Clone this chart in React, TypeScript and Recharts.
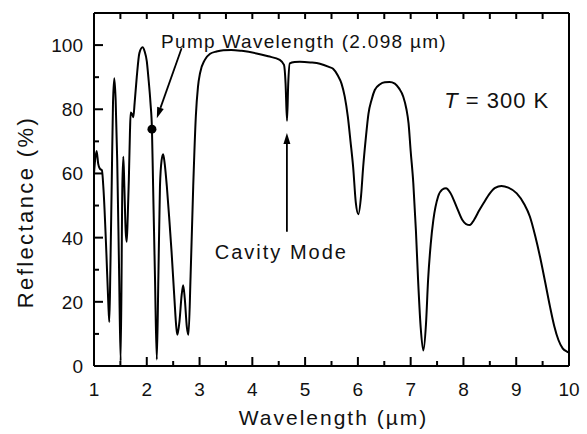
import { LineChart, Line, XAxis, YAxis, ReferenceDot, ReferenceLine } from 'recharts'

const FONT = '"Liberation Sans", Arial, Helvetica, sans-serif'

// wavelength in µm
const wavelength = [
  1.0, 1.02, 1.05, 1.08, 1.11, 1.15, 1.18, 1.235, 1.27, 1.29, 1.31, 1.335, 1.36, 1.385, 1.41, 1.44,
  1.475, 1.505, 1.537, 1.556, 1.575, 1.6, 1.62, 1.64, 1.66, 1.68, 1.695, 1.72, 1.745, 1.77, 1.81,
  1.86, 1.92, 1.96, 2.0, 2.03, 2.07, 2.098, 2.12, 2.155, 2.19, 2.22, 2.25, 2.28, 2.31, 2.34, 2.38,
  2.43, 2.47, 2.52, 2.56, 2.58, 2.62, 2.66, 2.69, 2.72, 2.76, 2.79, 2.83, 2.88, 2.93, 2.97, 3.01,
  3.1, 3.2, 3.32, 3.45, 3.6, 3.8, 4.08, 4.3, 4.52, 4.6, 4.63, 4.657, 4.68, 4.71, 4.8, 4.9, 5.1,
  5.28, 5.45, 5.53, 5.62, 5.69, 5.75, 5.81, 5.86, 5.91, 5.96, 6.01, 6.06, 6.1, 6.15, 6.2, 6.26,
  6.32, 6.42, 6.51, 6.6, 6.7, 6.78, 6.86, 6.92, 6.96, 7.0, 7.05, 7.1, 7.14, 7.19, 7.24, 7.29, 7.33,
  7.38, 7.43, 7.52, 7.6, 7.67, 7.75, 7.87, 7.98, 8.05, 8.12, 8.2, 8.3, 8.38, 8.5, 8.6, 8.72, 8.85,
  9.01, 9.15, 9.26, 9.36, 9.45, 9.55, 9.64, 9.72, 9.8, 9.88, 9.96, 10.0,
]

// reflectance in %
const reflectance = [
  60, 64, 67, 63, 61.5, 61, 55, 35, 20, 13.7, 30, 56, 82, 89.7, 83, 64,
  30, 1.5, 56, 65.2, 56, 42, 38.7, 47, 58, 72, 79, 78.5, 77.5, 82, 90,
  97.5, 99.3, 98, 95, 90, 82, 73.8, 56, 28, 2, 28, 56, 64, 66, 63, 56,
  45, 35.5, 22, 12, 9.7, 14, 22, 25.2, 21, 12, 9.7, 28, 56, 78, 87, 91.3,
  95.4, 97.3, 98, 98.4, 98.5, 98.2, 97.4, 96.5, 95.4, 93.8, 88, 76.4, 88, 94.3, 94.7, 94.8, 94.6,
  94.2, 93.2, 92.6, 90.5, 88, 84, 77.6, 70, 62, 51, 47.3, 53, 62, 71, 78.6, 83,
  86, 87.8, 88.4, 88.5, 88, 86.5, 83.9, 80, 75.6, 67, 57, 42, 27, 12, 4.8, 13, 26.8,
  38, 45.5, 52.8, 55, 55.4, 54, 49.6, 45.5, 44.2, 43.9, 45.5, 48.5, 50.7, 53.8, 55.5, 56.1, 55.6,
  53.8, 50.5, 46.5, 40.5, 34.1, 26, 18.5, 12.5, 8.1, 5.5, 4.5, 4.2,
]

const xTicks = [1, 1.5, 2, 2.5, 3, 3.5, 4, 4.5, 5, 5.5, 6, 6.5, 7, 7.5, 8, 8.5, 9, 9.5, 10]
const yTicks = [0, 10, 20, 30, 40, 50, 60, 70, 80, 90, 100, 110]

const pumpPoint = { w: 2.098, r: 73.8 }
const pumpArrow = [{ x: 2.66, y: 99 }, { x: 2.19, y: 77.2 }]
const cavityArrow = [{ x: 4.655, y: 41.8 }, { x: 4.655, y: 72.6 }]

const pumpLabel = { w: 4.98, r: 101.3, text: 'Pump Wavelength (2.098 \u00b5m)' }
const cavityLabel = { w: 4.55, r: 35.5, text: 'Cavity Mode' }
const tempLabel = { w: 8.63, r: 82.9, text: ' = 300 K' }

const data = wavelength.map((w, i) => ({ w, r: reflectance[i] }))

const BottomTick = (p: any) => {
  const v = p.payload.value
  const major = Number.isInteger(v)
  return (
    <g>
      <line x1={p.x} x2={p.x} y1={p.y} y2={p.y - (major ? 9 : 5)} stroke="#000" strokeWidth={2} />
      {major && (
        <text x={p.x} y={p.y + 30} textAnchor="middle" fontFamily={FONT} fontSize={19} fill="#111">
          {v}
        </text>
      )}
    </g>
  )
}

const LeftTick = (p: any) => {
  const v = p.payload.value
  const major = v % 20 === 0
  if (v > 100) return <g />
  return (
    <g>
      <line x1={p.x} x2={p.x + (major ? 9 : 5)} y1={p.y} y2={p.y} stroke="#000" strokeWidth={2} />
      {major && (
        <text x={p.x - 11} y={p.y + 7} textAnchor="end" fontFamily={FONT} fontSize={19} fill="#111">
          {v}
        </text>
      )}
    </g>
  )
}

const TopTick = (p: any) => (
  <line x1={p.x} x2={p.x} y1={p.y} y2={p.y + 6} stroke="#000" strokeWidth={2} />
)

const RightTick = (p: any) =>
  p.payload.value > 100 ? <g /> : (
    <line x1={p.x} x2={p.x - 8} y1={p.y} y2={p.y} stroke="#000" strokeWidth={2} />
  )

function Arrow(p: any) {
  const { x1, y1, x2, y2 } = p
  const dx = x2 - x1
  const dy = y2 - y1
  const len = Math.hypot(dx, dy) || 1
  const ux = dx / len
  const uy = dy / len
  const hl = 11
  const hw = 3.5
  const bx = x2 - ux * hl
  const by = y2 - uy * hl
  return (
    <g>
      <line x1={x1} y1={y1} x2={bx} y2={by} stroke="#000" strokeWidth={1.8} />
      <polygon
        points={`${x2},${y2} ${bx - uy * hw},${by + ux * hw} ${bx + uy * hw},${by - ux * hw}`}
        fill="#000"
      />
    </g>
  )
}

export default function App() {
  return (
    <div style={{ position: 'absolute', left: 0, top: 0, width: 587, height: 434, background: '#fff' }}>
      <LineChart width={587} height={434} data={data} margin={{ top: 0, right: 0, bottom: 0, left: 0 }}>
        <XAxis
          dataKey="w"
          type="number"
          domain={[1, 10]}
          ticks={xTicks}
          interval={0}
          height={68}
          tickSize={0}
          tickMargin={0}
          tickLine={false}
          tick={BottomTick}
          axisLine={{ stroke: '#000', strokeWidth: 2 }}
          label={(p: any) => (
            <text
              x={p.viewBox.x + p.viewBox.width / 2 + 2}
              y={p.viewBox.y + 59}
              textAnchor="middle"
              fontFamily={FONT}
              fontSize={21}
              letterSpacing={2}
              fill="#111"
            >
              Wavelength (µm)
            </text>
          )}
        />
        <XAxis
          xAxisId="top"
          orientation="top"
          dataKey="w"
          type="number"
          domain={[1, 10]}
          ticks={xTicks}
          interval={0}
          height={13}
          tickSize={0}
          tickMargin={0}
          tickLine={false}
          tick={TopTick}
          axisLine={{ stroke: '#000', strokeWidth: 2 }}
        />
        <YAxis
          type="number"
          domain={[0, 110]}
          ticks={yTicks}
          interval={0}
          width={94}
          tickSize={0}
          tickMargin={0}
          tickLine={false}
          tick={LeftTick}
          axisLine={{ stroke: '#000', strokeWidth: 2 }}
          label={(p: any) => (
            <text
              transform={`translate(${p.viewBox.x + 33}, ${p.viewBox.y + 199}) rotate(-90)`}
              textAnchor="middle"
              fontFamily={FONT}
              fontSize={22}
              letterSpacing={2.4}
              fill="#111"
            >
              Reflectance (%)
            </text>
          )}
        />
        <YAxis
          yAxisId="right"
          orientation="right"
          type="number"
          domain={[0, 110]}
          ticks={yTicks}
          interval={0}
          width={18}
          tickSize={0}
          tickMargin={0}
          tickLine={false}
          tick={RightTick}
          axisLine={{ stroke: '#000', strokeWidth: 2 }}
        />

        <Line
          dataKey="r"
          type="monotone"
          stroke="#000"
          strokeWidth={2}
          dot={false}
          activeDot={false}
          isAnimationActive={false}
        />

        <ReferenceLine segment={pumpArrow} shape={Arrow} />
        <ReferenceLine segment={cavityArrow} shape={Arrow} />
        <ReferenceDot x={pumpPoint.w} y={pumpPoint.r} r={4.5} fill="#000" stroke="none" />

        <ReferenceDot
          x={pumpLabel.w}
          y={pumpLabel.r}
          shape={(p: any) => (
            <text x={p.cx} y={p.cy + 7} textAnchor="middle" fontFamily={FONT} fontSize={19} letterSpacing={1.3} fill="#111">
              {pumpLabel.text}
            </text>
          )}
        />
        <ReferenceDot
          x={cavityLabel.w}
          y={cavityLabel.r}
          shape={(p: any) => (
            <text x={p.cx} y={p.cy + 7} textAnchor="middle" fontFamily={FONT} fontSize={20} letterSpacing={2} fill="#111">
              {cavityLabel.text}
            </text>
          )}
        />
        <ReferenceDot
          x={tempLabel.w}
          y={tempLabel.r}
          shape={(p: any) => (
            <text x={p.cx} y={p.cy + 8} textAnchor="middle" fontFamily={FONT} fontSize={22} letterSpacing={1} fill="#111">
              <tspan fontStyle="italic">T</tspan>
              {tempLabel.text}
            </text>
          )}
        />
      </LineChart>
    </div>
  )
}
